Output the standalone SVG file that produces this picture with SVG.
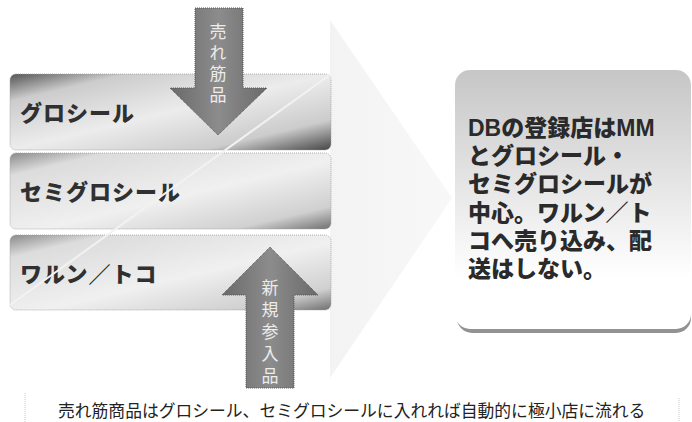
<svg xmlns="http://www.w3.org/2000/svg" width="692" height="422" viewBox="0 0 692 422">
  <style>
    .jp { font-family: "Noto Sans CJK JP", "Noto Sans", sans-serif; }
    .bar-label { font-size: 22px; font-weight: 900; fill: #303030; letter-spacing: 1px; }
    .box-text { font-family: "Liberation Sans", "Noto Sans CJK JP", sans-serif; font-size: 23px; font-weight: 900; fill: #2a2a2a; }
    .arrow-text { font-size: 17px; fill: #ececec; writing-mode: vertical-rl; }
    .caption { font-size: 16.8px; fill: #222; }
    .bar { stroke: #a0a0a0; stroke-width: 0.8; stroke-dasharray: 1 1; }
    .big-arrow { stroke: #555; stroke-width: 1; stroke-dasharray: 1 1; }
  </style>
  <defs>
    <linearGradient id="barGrad" x1="0" y1="0" x2="1" y2="1" gradientUnits="objectBoundingBox">
      <stop offset="0" stop-color="#555555"/>
      <stop offset="0.18" stop-color="#cccccc"/>
      <stop offset="0.5" stop-color="#ececec"/>
      <stop offset="0.8" stop-color="#cccccc"/>
      <stop offset="1" stop-color="#454545"/>
    </linearGradient>
    <linearGradient id="barGrad2" x1="0" y1="0" x2="1" y2="1" gradientUnits="objectBoundingBox">
      <stop offset="0" stop-color="#8a8a8a"/>
      <stop offset="0.15" stop-color="#dcdcdc"/>
      <stop offset="0.55" stop-color="#f0f0f0"/>
      <stop offset="0.85" stop-color="#d0d0d0"/>
      <stop offset="1" stop-color="#707070"/>
    </linearGradient>
    <linearGradient id="arrowGrad" x1="0" y1="0" x2="1" y2="0">
      <stop offset="0" stop-color="#6a6a6a"/>
      <stop offset="0.5" stop-color="#8c8c8c"/>
      <stop offset="1" stop-color="#6a6a6a"/>
    </linearGradient>
    <linearGradient id="boxGrad" x1="0" y1="0" x2="0" y2="1">
      <stop offset="0" stop-color="#c6c6c6"/>
      <stop offset="0.45" stop-color="#e6e6e6"/>
      <stop offset="0.8" stop-color="#ffffff"/>
    </linearGradient>
    <linearGradient id="bgArrow" x1="0" y1="0" x2="1" y2="0">
      <stop offset="0" stop-color="#f3f3f3"/>
      <stop offset="1" stop-color="#f8f8f8"/>
    </linearGradient>
  </defs>

  <rect width="692" height="422" fill="#ffffff"/>

  <!-- faint background arrow -->
  <g id="background-arrow">
    <polygon points="330,20 452,198 330,378" fill="url(#bgArrow)"/>
  </g>

  <!-- bars -->
  <g id="bar-groseal">
    <rect class="bar" x="10" y="74" width="321" height="76" rx="6" fill="url(#barGrad)"/>
    <text class="jp bar-label" x="20" y="121">グロシール</text>
  </g>
  <g id="bar-semigroseal">
    <rect class="bar" x="10" y="153" width="321" height="76" rx="6" fill="url(#barGrad2)"/>
    <text class="jp bar-label" x="20" y="200">セミグロシール</text>
  </g>
  <g id="bar-warung">
    <rect class="bar" x="10" y="235" width="321" height="75" rx="6" fill="url(#barGrad2)"/>
    <text class="jp bar-label" x="20" y="282">ワルン／トコ</text>
  </g>

  <!-- connectors -->
  <g id="connectors">
    <line x1="331" y1="74" x2="10" y2="305" stroke="#f2f2f2" stroke-width="2"/>
    <g id="arrow-down">
      <polygon class="big-arrow" points="195,8 243,8 243,88 267,88 218,135 170,88 195,88" fill="url(#arrowGrad)"/>
      <text class="jp arrow-text" x="218" y="23" letter-spacing="4">売れ筋品</text>
    </g>
    <g id="arrow-up">
      <polygon class="big-arrow" points="270,247 318,295 294,295 294,388 246,388 246,295 222,295" fill="url(#arrowGrad)"/>
      <text class="jp arrow-text" x="270" y="279" letter-spacing="5">新規参入品</text>
    </g>
  </g>

  <!-- right box -->
  <g id="db-box">
    <rect x="457" y="76" width="234" height="257" rx="15" fill="#777777" opacity="0.8"/>
    <rect x="455" y="70" width="236" height="259" rx="15" fill="url(#boxGrad)"/>
    <text class="box-text" x="468" y="136">DBの登録店はMM<tspan x="468" dy="28.2">とグロシール・</tspan><tspan x="468" dy="28.2">セミグロシールが</tspan><tspan x="468" dy="28.2">中心。ワルン／ト</tspan><tspan x="468" dy="28.2">コへ売り込み、配</tspan><tspan x="468" dy="28.2">送はしない。</tspan></text>
  </g>

  <!-- caption -->
  <g id="caption">
    <line x1="25" y1="393" x2="25" y2="422" stroke="#c8c8c8" stroke-width="1" stroke-dasharray="1 1"/>
    <line x1="679" y1="398" x2="679" y2="422" stroke="#c8c8c8" stroke-width="1" stroke-dasharray="1 1"/>
    <text class="jp caption" x="58" y="417">売れ筋商品はグロシール、セミグロシールに入れれば自動的に極小店に流れる</text>
  </g>
</svg>
